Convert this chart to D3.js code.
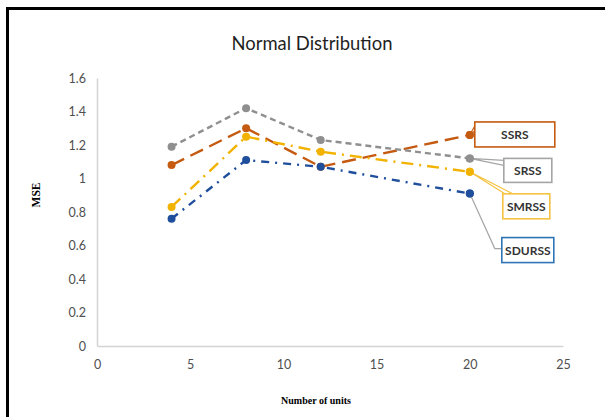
<!DOCTYPE html>
<html><head><meta charset="utf-8">
<script src="https://cdn.jsdelivr.net/npm/d3@7"></script>
<style>html,body{margin:0;padding:0;background:#fff;}svg{display:block;}</style>
</head><body>
<script>
// ---- data ----
const xValues = [4, 8, 12, 20];
const seriesNames = ["SSRS", "SRSS", "SMRSS", "SDURSS"];
const ssrsValues = [1.08, 1.30, 1.07, 1.26];
const srssValues = [1.19, 1.42, 1.23, 1.12];
const smrssValues = [0.83, 1.25, 1.16, 1.04];
const sdurssValues = [0.76, 1.11, 1.07, 0.91];
const xTicks = [0, 5, 10, 15, 20, 25];
const yTicks = [0, 0.2, 0.4, 0.6, 0.8, 1, 1.2, 1.4, 1.6];
const yTickLabels = ["0", "0.2", "0.4", "0.6", "0.8", "1", "1.2", "1.4", "1.6"];
const titleText = "Normal Distribution";
const xTitle = "Number of units";
const yTitle = "MSE";

// ---- styles ----
const styles = {
  SSRS:   {color: "#c55a11", dash: "14,7",        box: "#c55a11"},
  SRSS:   {color: "#8f8f8f", dash: "6,4",         box: "#a5a5a5"},
  SMRSS:  {color: "#f2b200", dash: "12,6,2,6",    box: "#f5c242"},
  SDURSS: {color: "#1f4e9c", dash: "8,6,2,6",     box: "#2e75b6"}
};
// callout box offsets from last point (label layout)
const callouts = {
  SSRS:   {dx: 5,  dy: -13, w: 80, h: 25, kind: "wedgeLeft",  a: 4, b: 9},
  SRSS:   {dx: 34, dy: 0,   w: 48, h: 24, kind: "wedgeLeft",  a: 2, b: 7},
  SMRSS:  {dx: 33, dy: 22,  w: 47, h: 25, kind: "wedgeTop",   a: 2, b: 10},
  SDURSS: {dx: 32, dy: 44,  w: 52, h: 25, kind: "elbow"}
};
const seriesValues = [ssrsValues, srssValues, smrssValues, sdurssValues];

const W = 605, H = 417;
const svg = d3.select("body").append("svg").attr("width", W).attr("height", H);
svg.append("rect").attr("width", W).attr("height", H).attr("fill", "#fff");

const x = d3.scaleLinear().domain([0, 25]).range([97, 563]);
const y = d3.scaleLinear().domain([0, 1.6]).range([346, 78]);

const font = "Lato, 'Open Sans', sans-serif";

// frame border
svg.append("path").attr("d", "M7.5,417 L7.5,8.5 L605,8.5")
  .attr("fill", "none").attr("stroke", "#000").attr("stroke-width", 3);

// title
const t = svg.append("text").attr("x", 312).attr("y", 50).attr("text-anchor", "middle")
  .attr("font-family", font).attr("font-size", 18).attr("fill", "#1f1f1f").text(titleText);
const tl = t.node().getComputedTextLength();
t.attr("font-size", 18 * 161 / tl);

// axes
const yAxis = d3.axisLeft(y).tickValues(yTicks).tickFormat((d, i) => yTickLabels[i])
  .tickSize(0).tickSizeOuter(0).tickPadding(11);
const gy = svg.append("g").attr("transform", `translate(${x(0)},0)`).call(yAxis);
const xAxis = d3.axisBottom(x).tickValues(xTicks).tickFormat(d3.format("d"))
  .tickSize(0).tickSizeOuter(0).tickPadding(14);
const gx = svg.append("g").attr("transform", `translate(0,${y(0)})`).call(xAxis);
[gx, gy].forEach(g => {
  g.select(".domain").attr("stroke", "#d4d4d4").attr("stroke-width", 1.5);
  g.selectAll("text").attr("font-family", font).attr("font-size", 12.5).attr("fill", "#4f4f4f");
});

// axis titles
svg.append("text").attr("transform", "translate(40,195) rotate(-90)").attr("text-anchor", "middle")
  .attr("font-family", "'Liberation Serif', 'Times New Roman', serif").attr("font-weight", "bold")
  .attr("font-size", 11.5).attr("fill", "#000").text(yTitle);
svg.append("text").attr("x", 316).attr("y", 404).attr("text-anchor", "middle")
  .attr("font-family", "'Liberation Serif', 'Times New Roman', serif").attr("font-weight", "bold")
  .attr("font-size", 10).attr("fill", "#000").text(xTitle);

// lines
const line = d3.line().x((d, i) => x(xValues[i])).y(d => y(d));
seriesNames.forEach((name, si) => {
  const vals = seriesValues[si];
  const st = styles[name];
  svg.append("path").attr("d", line(vals)).attr("fill", "none")
    .attr("stroke", st.color).attr("stroke-width", 2.4)
    .attr("stroke-dasharray", st.dash).attr("stroke-linecap", "butt");
  svg.append("g").selectAll("circle").data(vals).join("circle")
    .attr("cx", (d, i) => x(xValues[i])).attr("cy", d => y(d)).attr("r", 4)
    .attr("fill", st.color);
});

// callouts
seriesNames.forEach((name, si) => {
  const vals = seriesValues[si];
  const px = x(xValues[xValues.length - 1]), py = y(vals[vals.length - 1]);
  const c = callouts[name], st = styles[name];
  const bx = px + c.dx, by = py + c.dy;
  const g = svg.append("g");
  if (c.kind === "wedgeLeft") {
    g.append("path").attr("d", `M${bx},${by + c.a} L${px},${py} L${bx},${by + c.b}`)
      .attr("fill", "#fff").attr("stroke", st.box).attr("stroke-width", 1.2);
  } else if (c.kind === "wedgeTop") {
    g.append("path").attr("d", `M${bx + c.a},${by} L${px},${py} L${bx + c.b},${by}`)
      .attr("fill", "#fff").attr("stroke", st.box).attr("stroke-width", 1.2);
  } else {
    g.append("path").attr("d", `M${px},${py} L${bx - 7},${by + 11} L${bx},${by + 11}`)
      .attr("fill", "none").attr("stroke", "#a5a5a5").attr("stroke-width", 1.2);
  }
  g.append("rect").attr("x", bx).attr("y", by).attr("width", c.w).attr("height", c.h)
    .attr("fill", "#fff").attr("stroke", st.box).attr("stroke-width", 1.6);
  g.append("text").attr("x", bx + c.w / 2).attr("y", by + c.h / 2 + 4.5).attr("text-anchor", "middle")
    .attr("font-family", font).attr("font-weight", "bold").attr("font-size", 12).attr("fill", "#333")
    .text(name);
});
// redraw markers at callout origin on top
seriesNames.forEach((name, si) => {
  const vals = seriesValues[si];
  svg.append("circle").attr("cx", x(xValues[xValues.length - 1])).attr("cy", y(vals[vals.length - 1]))
    .attr("r", 4).attr("fill", styles[name].color);
});
</script>
</body></html>
